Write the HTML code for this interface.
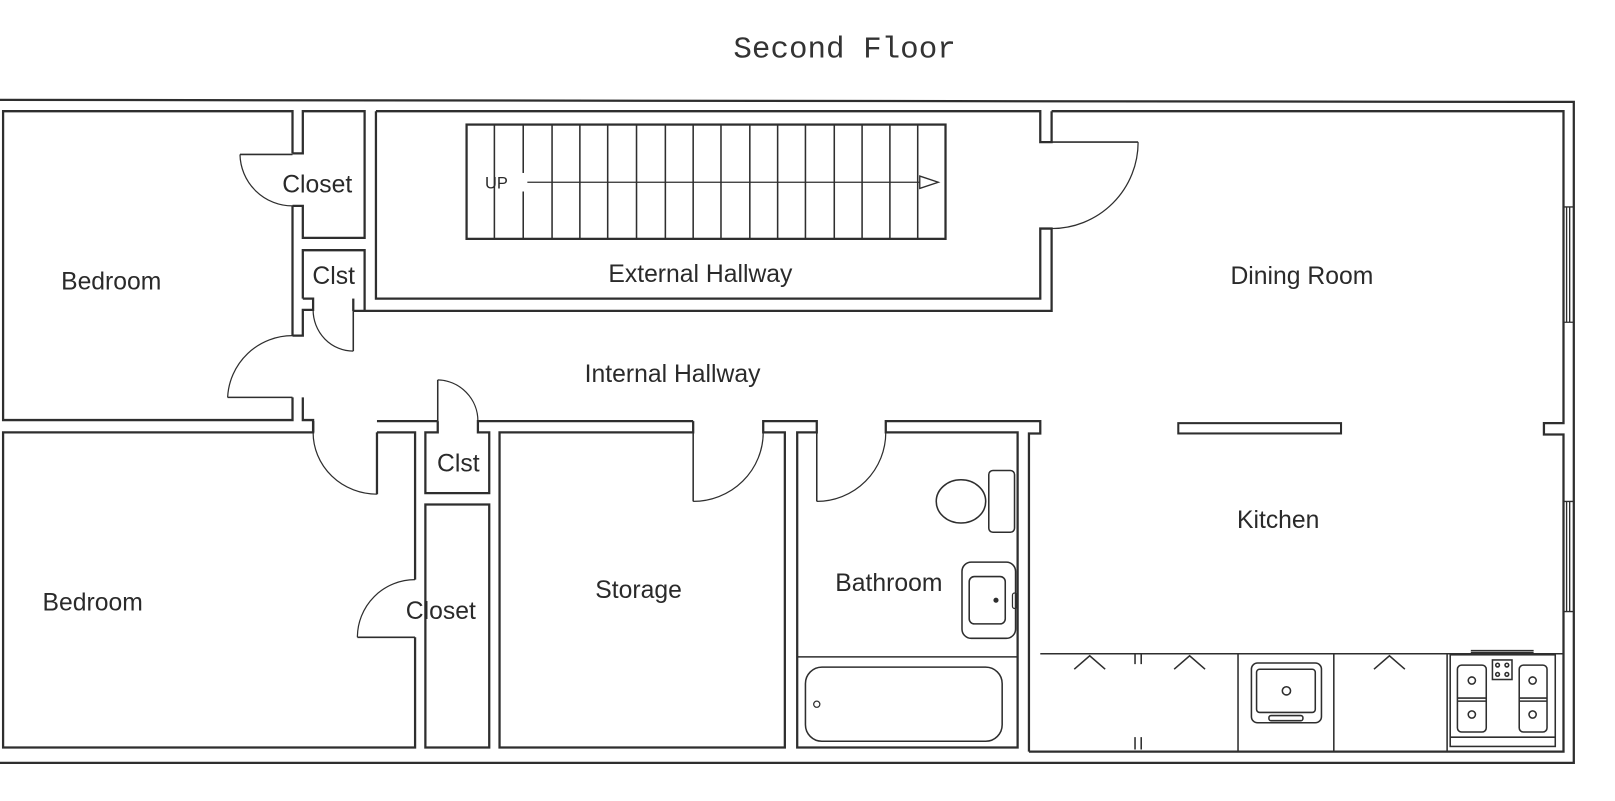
<!DOCTYPE html>
<html><head><meta charset="utf-8"><style>
html,body{margin:0;padding:0;background:#fff;}
svg{display:block;}
text{font-family:"Liberation Sans",sans-serif;fill:#2a2a2a;}
</style></head><body>
<svg width="1615" height="801" viewBox="0 0 1568 778" preserveAspectRatio="none" xmlns="http://www.w3.org/2000/svg">
<rect width="1568" height="778" fill="#fff"/>
<text x="820" y="56" text-anchor="middle" style="font-family:'Liberation Mono',monospace;font-size:30px;fill:#333">Second Floor</text>
<g fill="none" stroke="#2e2e2e" stroke-width="2.2">
<!-- outer -->
<path d="M0 97 L1528 99 L1528 741 L0 741"/>
<!-- top-left bedroom -->
<path d="M284 149 L284 108 L3 108 L3 408 L284 408 L284 386 M284 326 L284 200"/>
<path d="M233 150 L284 150" stroke-width="1.5"/>
<path d="M233 150 A51 51 0 0 0 284 200" stroke-width="1.2"/>
<path d="M221 386 L284 386" stroke-width="1.5"/>
<path d="M221 386 A63 63 0 0 1 284 326" stroke-width="1.2"/>
<!-- closet top -->
<path d="M284 149 L294 149 L294 108 L354 108 L354 231 L294 231 L294 200 L284 200"/>
<!-- Clst top -->
<path d="M294 290 L294 243 L354 243 L354 302"/>
<path d="M294 290 L304 290 L304 301 L294 301 L294 326 L284 326"/>
<path d="M343 290 L343 302"/>
<path d="M343 301 L343 341" stroke-width="1.5"/>
<path d="M304 301 A39 40 0 0 0 343 341" stroke-width="1.2"/>
<!-- external hallway -->
<path d="M365 108 L1010 108 L1010 138 L1021 138 L1021 108"/>
<path d="M365 108 L365 290 L1010 290 L1010 222 L1021 222 L1021 302 L343 302"/>
<path d="M1021 138 L1105 138" stroke-width="1.5"/>
<path d="M1105 138 A84 84 0 0 1 1021 222" stroke-width="1.2"/>
<!-- stairs -->
<rect x="453" y="121" width="465" height="111"/>
<g stroke-width="1.5">
<path d="M480 121V232M508 121V232M536 121V232M563 121V232M590 121V232M618 121V232M646 121V232M673 121V232M700 121V232M728 121V232M755 121V232M782 121V232M810 121V232M837 121V232M864 121V232M891 121V232"/>
</g>
<rect x="498" y="168" width="14" height="18" fill="#fff" stroke="none"/>
<path d="M512 177 L893 177" stroke-width="1.3"/>
<path d="M893 171 L911 177 L893 183 Z" stroke-width="1.3" fill="#fff"/>
<!-- bedrooms junction -->
<path d="M294 386 L294 408 L304 408 L304 420 L3 420 L3 726 L403 726 L403 619"/>
<path d="M304 420 L304 409" />
<path d="M366 480 L366 420 M366 409 L425 409 M366 420 L403 420 L403 563"/>
<path d="M304 409 L304 420"/>
<path d="M366 420 L366 480" stroke-width="1.5"/>
<path d="M304 420 A62 60 0 0 0 366 480" stroke-width="1.2"/>
<path d="M347 619 L403 619" stroke-width="1.5"/>
<path d="M347 619 A56 56 0 0 1 403 563" stroke-width="1.2"/>
<!-- Clst lower -->
<path d="M425 409 L425 420 L413 420 L413 479 L475 479 L475 420 L464 420 L464 409 L673 409"/>
<path d="M425 409 L425 369" stroke-width="1.5"/>
<path d="M425 369 A40 40 0 0 1 464 409" stroke-width="1.2"/>
<!-- closet lower -->
<path d="M413 726 L413 490 L475 490 L475 726 Z"/>
<!-- storage -->
<path d="M673 409 L673 420 L485 420 L485 726 L762 726 L762 420 L741 420 L741 409 L793 409 L793 420 L774 420 L774 726 L988 726 L988 420 L860 420 L860 409 L1010 409 L1010 421 L999 421 L999 730"/>
<path d="M673 420 L673 487" stroke-width="1.5"/>
<path d="M673 487 A68 67 0 0 0 741 420" stroke-width="1.2"/>
<path d="M793 420 L793 487" stroke-width="1.5"/>
<path d="M793 487 A67 67 0 0 0 860 420" stroke-width="1.2"/>
<!-- bathroom fixtures -->
<path d="M774 638 L988 638" stroke-width="1.5"/>
<rect x="782" y="648" width="191" height="72" rx="16" stroke-width="1.5"/>
<circle cx="793" cy="684" r="3" stroke-width="1.2"/>
<ellipse cx="933" cy="487" rx="24" ry="21" stroke-width="1.5"/>
<rect x="960" y="457" width="25" height="60" rx="4" stroke-width="1.5"/>
<rect x="934" y="546" width="52" height="74" rx="9" stroke-width="1.5"/>
<rect x="941" y="560" width="35" height="46" rx="5" stroke-width="1.5"/>
<circle cx="967" cy="583" r="2" fill="#2e2e2e" stroke-width="1"/>
<rect x="983" y="576" width="4" height="15" rx="2" stroke-width="1.2"/>
<!-- dining / kitchen -->
<path d="M1021 108 L1518 108 L1518 411 L1499 411 L1499 422 L1518 422 L1518 730 L999 730"/>
<rect x="1144" y="411" width="158" height="10" stroke-width="2"/>
<g stroke-width="1.3">
<path d="M1521 201V313M1524 201V313M1521 487V594M1524 487V594"/>
<path d="M1518 201H1528M1518 313H1528M1518 487H1528M1518 594H1528"/>
</g>
<!-- counter -->
<g stroke-width="1.5">
<path d="M1010 635 L1518 635"/>
<path d="M1102 635V645M1108 635V645M1102 716V728M1108 716V728"/>
<path d="M1202 635V730M1295 635V730M1405 635V730"/>
<path d="M1043 650 L1058 637 L1073 650M1140 650 L1155 637 L1170 650M1334 650 L1349 637 L1364 650"/>
<rect x="1215" y="644" width="68" height="58" rx="6"/>
<rect x="1220" y="650" width="57" height="42" rx="3"/>
<circle cx="1249" cy="671" r="4"/>
<rect x="1232" y="695" width="33" height="5" rx="2"/>
<rect x="1408" y="636" width="102" height="89"/>
<path d="M1428 632H1489M1428 634H1489"/>
<rect x="1415" y="646" width="28" height="65" rx="4"/>
<path d="M1415 678H1443M1415 681H1443M1475 678H1502M1475 681H1502"/>
<rect x="1475" y="646" width="27" height="65" rx="4"/>
<circle cx="1429" cy="661" r="3.5"/><circle cx="1429" cy="694" r="3.5"/>
<circle cx="1488" cy="661" r="3.5"/><circle cx="1488" cy="694" r="3.5"/>
<rect x="1449" y="641" width="19" height="19"/>
<circle cx="1454" cy="646" r="1.8"/><circle cx="1463" cy="646" r="1.8"/>
<circle cx="1454" cy="655" r="1.8"/><circle cx="1463" cy="655" r="1.8"/>
<path d="M1408 716H1510"/>
</g>
</g>
<g style="font-size:24px">
<text x="108" y="281" text-anchor="middle">Bedroom</text>
<text x="308" y="187" text-anchor="middle">Closet</text>
<text x="324" y="276" text-anchor="middle">Clst</text>
<text x="680" y="274" text-anchor="middle">External Hallway</text>
<text x="482" y="183" text-anchor="middle" style="font-size:16px">UP</text>
<text x="1264" y="276" text-anchor="middle">Dining Room</text>
<text x="653" y="371" text-anchor="middle">Internal Hallway</text>
<text x="445" y="458" text-anchor="middle">Clst</text>
<text x="90" y="593" text-anchor="middle">Bedroom</text>
<text x="428" y="601" text-anchor="middle">Closet</text>
<text x="620" y="581" text-anchor="middle">Storage</text>
<text x="863" y="574" text-anchor="middle">Bathroom</text>
<text x="1241" y="513" text-anchor="middle">Kitchen</text>
</g>
</svg>
</body></html>
